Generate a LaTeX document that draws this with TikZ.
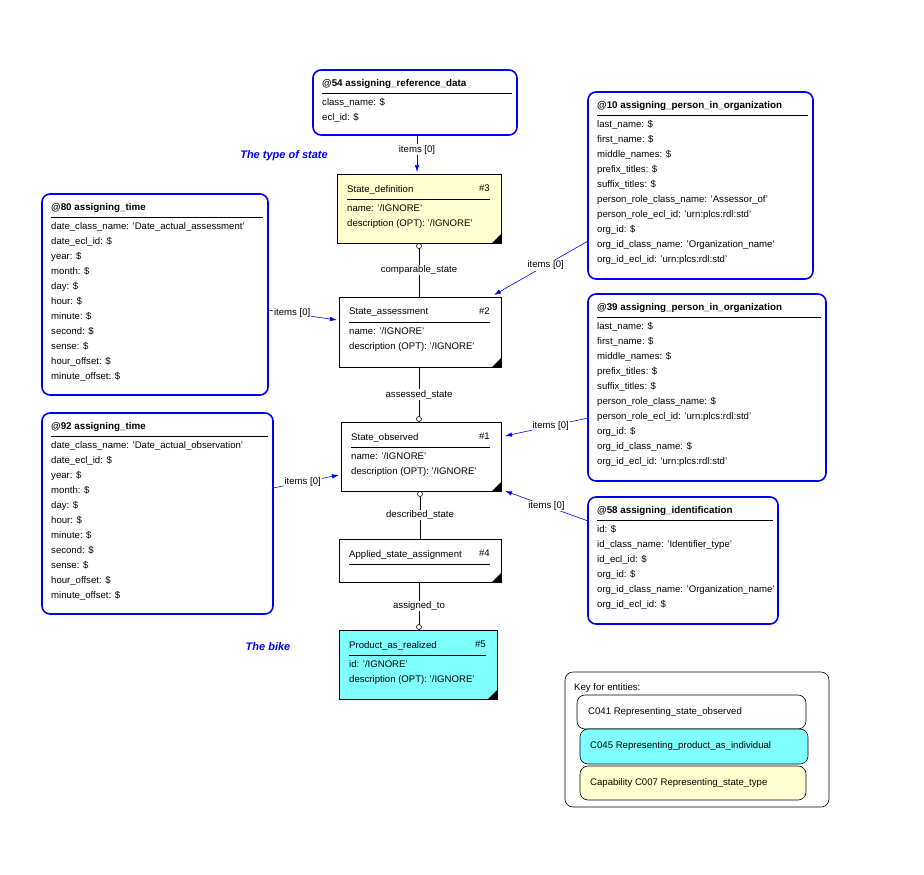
\documentclass[tikz,border=0pt]{standalone}
\usepackage{fontspec}
\setmainfont{Liberation Sans}
\usetikzlibrary{positioning,arrows.meta,calc}
\definecolor{tblue}{RGB}{0,0,240}
\definecolor{ecyan}{RGB}{128,255,255}
\definecolor{eyellow}{RGB}{255,255,208}
\tikzset{
  txt/.style={font=\fontsize{9.6}{15}\selectfont, inner sep=0pt, anchor=north west, align=left},
  tmpl/.style={draw=tblue, line width=1.6pt, rounded corners=8pt},
  ent/.style={draw=black, line width=0.6pt},
  lnk/.style={draw=tblue, line width=0.6pt, -{Latex[length=7pt,width=4.5pt]}},
  rel/.style={draw=black, line width=0.6pt},
  lab/.style={font=\fontsize{9.6}{11}\selectfont, fill=white, inner sep=1pt},
  note/.style={font=\fontsize{11}{13}\selectfont\bfseries\itshape, text=tblue}
}
% template box: name, x1, y1, x2, y2, title, lines
\newcommand{\tmplbox}[7]{%
  \draw[tmpl] (#2,#3) rectangle (#4,#5);
  \coordinate (#1) at ($(#2,#3)!0.5!(#4,#5)$);
  \begin{scope}
    \clip (#2,#3) rectangle (#4-2,#5);
    \node[txt, font=\fontsize{9.8}{11}\selectfont\bfseries] at (#2+9,#3+9) {#6};
    \draw (#2+9,#3+23) -- (#4-5,#3+23);
    \node[txt] at (#2+9,#3+28) {#7};
  \end{scope}}
% entity box: name, x1, y1, x2, y2, fill, title, number, lines
\newcommand{\entbox}[9]{%
  \draw[ent, fill=#6] (#2,#3) rectangle (#4,#5);
  \coordinate (#1) at ($(#2,#3)!0.5!(#4,#5)$);
  \fill (#4,#5) -- (#4-9,#5) -- (#4,#5-9) -- cycle;
  \node[txt, font=\fontsize{9.6}{11}\selectfont] at (#2+10,#3+11) {#7};
  \node[txt, font=\fontsize{9.6}{11}\selectfont, anchor=north east] at (#4-11,#3+11) {#8};
  \draw (#2+10,#3+25) -- (#4-11,#3+25);
  \node[txt] at (#2+10,#3+30) {#9};}
\begin{document}
\begin{tikzpicture}[x=1pt,y=-1pt]
\useasboundingbox (0,0) rectangle (924,875);

% templates
\tmplbox{a54}{313}{70}{517}{135}{@54 assigning\_reference\_data}{class\_name: \$\\ecl\_id: \$}
\tmplbox{a10}{588}{92}{813}{279}{@10 assigning\_person\_in\_organization}{last\_name: \$\\first\_name: \$\\middle\_names: \$\\prefix\_titles: \$\\suffix\_titles: \$\\person\_role\_class\_name: 'Assessor\_of'\\person\_role\_ecl\_id: 'urn:plcs:rdl:std'\\org\_id: \$\\org\_id\_class\_name: 'Organization\_name'\\org\_id\_ecl\_id: 'urn:plcs:rdl:std'}
\tmplbox{a39}{588}{294}{826}{481}{@39 assigning\_person\_in\_organization}{last\_name: \$\\first\_name: \$\\middle\_names: \$\\prefix\_titles: \$\\suffix\_titles: \$\\person\_role\_class\_name: \$\\person\_role\_ecl\_id: 'urn:plcs:rdl:std'\\org\_id: \$\\org\_id\_class\_name: \$\\org\_id\_ecl\_id: 'urn:plcs:rdl:std'}
\tmplbox{a58}{588}{497}{778}{624}{@58 assigning\_identification}{id: \$\\id\_class\_name: 'Identifier\_type'\\id\_ecl\_id: \$\\org\_id: \$\\org\_id\_class\_name: 'Organization\_name'\\org\_id\_ecl\_id: \$}
\tmplbox{a80}{42}{194}{268}{395}{@80 assigning\_time}{date\_class\_name: 'Date\_actual\_assessment'\\date\_ecl\_id: \$\\year: \$\\month: \$\\day: \$\\hour: \$\\minute: \$\\second: \$\\sense: \$\\hour\_offset: \$\\minute\_offset: \$}
\tmplbox{a92}{42}{413}{273}{614}{@92 assigning\_time}{date\_class\_name: 'Date\_actual\_observation'\\date\_ecl\_id: \$\\year: \$\\month: \$\\day: \$\\hour: \$\\minute: \$\\second: \$\\sense: \$\\hour\_offset: \$\\minute\_offset: \$}

% entities
\entbox{sdef}{337}{174}{501}{243}{eyellow}{State\_definition}{\#3}{name: '/IGNORE'\\description (OPT): '/IGNORE'}
\entbox{sass}{339}{297}{501}{367}{white}{State\_assessment}{\#2}{name: '/IGNORE'\\description (OPT): '/IGNORE'}
\entbox{sobs}{341}{422}{501}{491}{white}{State\_observed}{\#1}{name: '/IGNORE'\\description (OPT): '/IGNORE'}
\entbox{asa}{339}{539}{501}{582}{white}{Applied\_state\_assignment}{\#4}{}
\entbox{par}{339}{630}{497}{699}{ecyan}{Product\_as\_realized}{\#5}{id: '/IGNORE'\\description (OPT): '/IGNORE'}

% relations
\draw[rel] (419,243) -- node[lab]{comparable\_state} (419,297);
\draw[rel, fill=white] (419,246) circle (2.5pt);
\draw[rel] (419,367) -- node[lab]{assessed\_state} (419,422);
\draw[rel, fill=white] (419,419) circle (2.5pt);
\draw[rel] (420,491) -- node[lab]{described\_state} (420,539);
\draw[rel, fill=white] (420,494) circle (2.5pt);
\draw[rel] (419,582) -- node[lab]{assigned\_to} (419,630);
\draw[rel, fill=white] (419,627) circle (2.5pt);

% template links
\draw[lnk] (417,135) -- node[lab, pos=0.4]{items [0]} (417,172);
\draw[lnk] (588,241) -- node[lab, pos=0.45]{items [0]} (494,295);
\draw[lnk] (268,310) -- node[lab, pos=0.35]{items [0]} (337,320);
\draw[lnk] (588,418) -- node[lab, pos=0.45]{items [0]} (505,436);
\draw[lnk] (273,488) -- node[lab, pos=0.45]{items [0]} (339,475);
\draw[lnk] (588,521) -- node[lab, pos=0.5]{items [0]} (505,491);

% notes
\node[note] (ntype) at (284,156) {The type of state};
\node[note] (nbike) at (268,647) {The bike};

% key
\draw[rel, rounded corners=8pt] (565,672) rectangle (829,807);
\node[txt, font=\fontsize{9.6}{11}\selectfont] (kt) at (574,683) {Key for entities:};
\draw[rel, rounded corners=8pt] (577,695) rectangle (806,729);
\node[txt, font=\fontsize{9.6}{11}\selectfont, anchor=west] (k1) at (588,712) {C041 Representing\_state\_observed};
\draw[rel, rounded corners=8pt, fill=ecyan] (580,729) rectangle (808,764);
\node[txt, font=\fontsize{9.6}{11}\selectfont, anchor=west] (k2) at (590,746) {C045 Representing\_product\_as\_individual};
\draw[rel, rounded corners=8pt, fill=eyellow] (580,766) rectangle (806,800);
\node[txt, font=\fontsize{9.6}{11}\selectfont, anchor=west] (k3) at (590,783) {Capability C007 Representing\_state\_type};
\end{tikzpicture}
\end{document}
